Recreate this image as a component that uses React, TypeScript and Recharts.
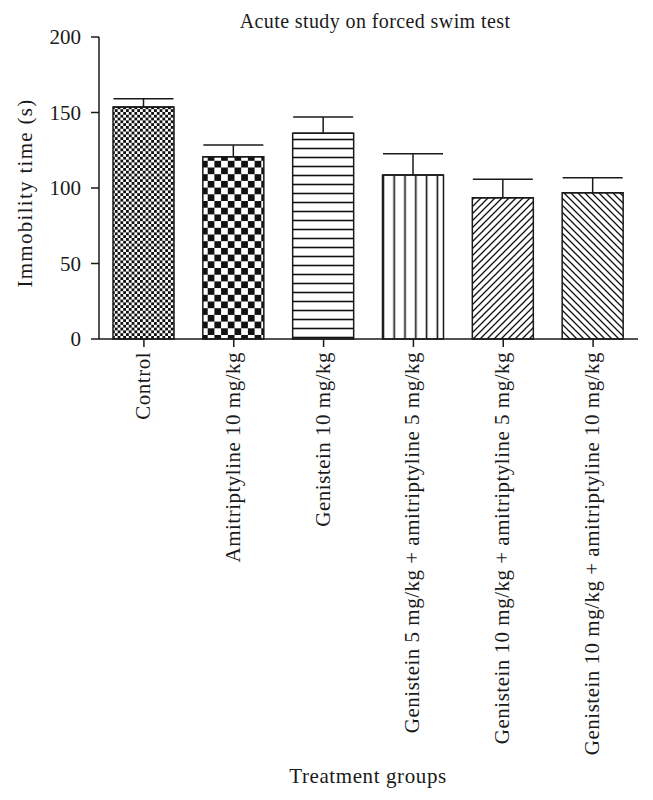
import React from 'react';
import { BarChart, Bar, XAxis, YAxis, Cell, ErrorBar } from 'recharts';

const groups = [
  'Control',
  'Amitriptyline 10 mg/kg',
  'Genistein 10 mg/kg',
  'Genistein 5 mg/kg + amitriptyline 5 mg/kg',
  'Genistein 10 mg/kg + amitriptyline 5 mg/kg',
  'Genistein 10 mg/kg + amitriptyline 10 mg/kg',
];
const immobility = [153.6, 120.7, 136.2, 108.6, 93.6, 96.9];
const sem = [5.5, 7.8, 10.8, 14.1, 12.2, 9.9];
const yTicks = [0, 50, 100, 150, 200];
const patternIds = ['fineCheck', 'coarseCheck', 'hLines', 'vLines', 'diagUp', 'diagDown'];

const data = groups.map((g, i) => ({ group: g, value: immobility[i], err: [0, sem[i]] }));

const FONT = '"Liberation Serif", "DejaVu Serif", serif';
const INK = '#1a1a1a';

const XTick = (props: any) => {
  const { x, y, payload } = props;
  return (
    <text
      x={x + 6}
      y={y}
      transform={`rotate(-90, ${x + 6}, ${y})`}
      textAnchor="end"
      fontFamily={FONT}
      fontSize={21}
      letterSpacing={0.5}
      fill={INK}
    >
      {payload.value}
    </text>
  );
};

export default function App() {
  return (
    <div style={{ position: 'absolute', left: 0, top: 0, width: 653, height: 800, background: '#fff' }}>
      <BarChart width={653} height={800} data={data} margin={{ top: 37, right: 15, bottom: 0, left: 0 }}>
        <defs>
          <pattern id="fineCheck" patternUnits="userSpaceOnUse" width={5.6} height={5.6}>
            <rect x={0} y={0} width={5.6} height={5.6} fill="#fff" />
            <rect x={0} y={0} width={2.8} height={2.8} fill="#111" />
            <rect x={2.8} y={2.8} width={2.8} height={2.8} fill="#111" />
          </pattern>
          <pattern id="coarseCheck" patternUnits="userSpaceOnUse" width={13.4} height={13.4}>
            <rect x={0} y={0} width={13.4} height={13.4} fill="#fff" />
            <rect x={0} y={0} width={6.7} height={6.7} fill="#111" />
            <rect x={6.7} y={6.7} width={6.7} height={6.7} fill="#111" />
          </pattern>
          <pattern id="hLines" patternUnits="userSpaceOnUse" width={10} height={9}>
            <rect x={0} y={0} width={10} height={9} fill="#fff" />
            <line x1={0} y1={4.5} x2={10} y2={4.5} stroke="#111" strokeWidth={1.6} />
          </pattern>
          <pattern id="vLines" patternUnits="userSpaceOnUse" width={10.8} height={10}>
            <rect x={0} y={0} width={10.8} height={10} fill="#fff" />
            <line x1={5.4} y1={0} x2={5.4} y2={10} stroke="#111" strokeWidth={1.6} />
          </pattern>
          <pattern id="diagUp" patternUnits="userSpaceOnUse" width={7} height={7}>
            <rect x={0} y={0} width={7} height={7} fill="#fff" />
            <path d="M0,7 L7,0 M-1,1 L1,-1 M6,8 L8,6" stroke="#111" strokeWidth={1.3} />
          </pattern>
          <pattern id="diagDown" patternUnits="userSpaceOnUse" width={7} height={7}>
            <rect x={0} y={0} width={7} height={7} fill="#fff" />
            <path d="M0,0 L7,7 M-1,6 L1,8 M6,-1 L8,1" stroke="#111" strokeWidth={1.3} />
          </pattern>
        </defs>
        <text x={375} y={28} textAnchor="middle" fontFamily={FONT} fontSize={20} letterSpacing={0.4} fill={INK}>
          Acute study on forced swim test
        </text>
        <text
          x={32}
          y={193}
          transform="rotate(-90, 32, 193)"
          textAnchor="middle"
          fontFamily={FONT}
          fontSize={21}
          letterSpacing={1.3}
          fill={INK}
        >
          Immobility time (s)
        </text>
        <text x={368} y={783} textAnchor="middle" fontFamily={FONT} fontSize={21} letterSpacing={0.6} fill={INK}>
          Treatment groups
        </text>
        <XAxis
          dataKey="group"
          height={461}
          interval={0}
          tickSize={8}
          tickMargin={5}
          tick={<XTick />}
          axisLine={{ stroke: INK, strokeWidth: 1.5 }}
          tickLine={{ stroke: INK, strokeWidth: 1.5 }}
        />
        <YAxis
          width={99}
          domain={[0, 200]}
          ticks={yTicks}
          tickSize={8}
          tickMargin={10}
          axisLine={{ stroke: INK, strokeWidth: 1.5 }}
          tickLine={{ stroke: INK, strokeWidth: 1.5 }}
          tick={{ fontFamily: FONT, fontSize: 21, fill: INK }}
        />
        <Bar dataKey="value" barSize={61} stroke={INK} strokeWidth={1.5} isAnimationActive={false}>
          {data.map((d, i) => (
            <Cell key={d.group} fill={`url(#${patternIds[i]})`} />
          ))}
          <ErrorBar dataKey="err" width={30} stroke={INK} strokeWidth={1.5} direction="y" isAnimationActive={false} />
        </Bar>
      </BarChart>
    </div>
  );
}
